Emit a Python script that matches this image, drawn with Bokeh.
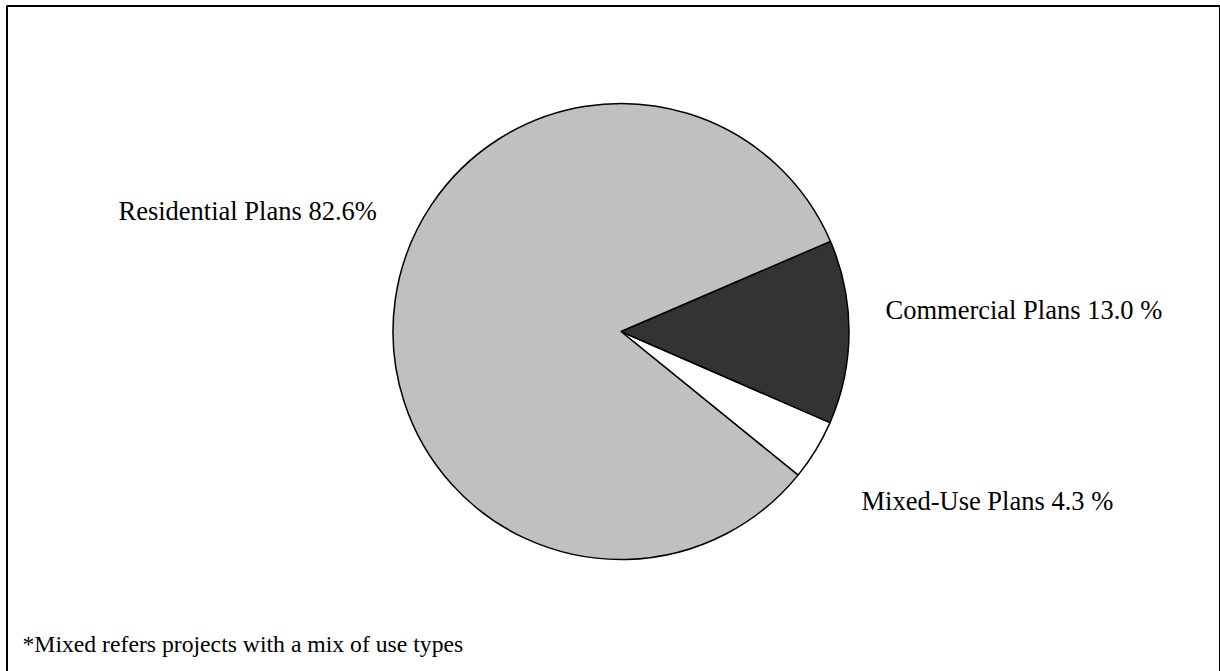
import math
from bokeh.plotting import figure
from bokeh.models import Range1d, ColumnDataSource
from bokeh.core.properties import value
from bokeh.embed import file_html
from bokeh.resources import INLINE

# Share of plans by use type (percent)
categories = ["Mixed-Use Plans", "Commercial Plans", "Residential Plans"]
shares = [4.3, 13.0, 82.6]
labels = ["Mixed-Use Plans 4.3 %", "Commercial Plans 13.0 %", "Residential Plans 82.6%"]
colors = ["#FFFFFF", "#333333", "#C0C0C0"]
footnote = "*Mixed refers projects with a mix of use types"

W, H = 1220, 671
p = figure(width=W, height=H, x_range=Range1d(0, W), y_range=Range1d(0, H),
           min_border=0, toolbar_location=None, output_backend="svg")
p.axis.visible = False
p.grid.visible = False
p.outline_line_color = None
p.background_fill_color = "white"

# Chart frame
p.quad(left=[6.5], right=[1219.5], top=[H - 5.5], bottom=[-10],
       fill_color=None, line_color="black", line_width=2)

# Pie: Residential/Commercial boundary sits at ~23.3 degrees
total = sum(shares)
boundary = math.radians(23.3)
start0 = boundary - 2 * math.pi * (shares[0] + shares[1]) / total
starts, ends = [], []
acc = start0
for s in shares:
    starts.append(acc)
    acc += 2 * math.pi * s / total
    ends.append(acc)

cx, cy, r = 620.5, H - 331, 228
src = ColumnDataSource(dict(cat=categories, start=starts, end=ends, color=colors,
                            x=[cx] * 3, y=[cy] * 3))
p.wedge(x="x", y="y", radius=r, start_angle="start", end_angle="end",
        fill_color="color", line_color="black", line_width=1.5, source=src)

# Slice labels and footnote, all in one serif text glyph
txt = ColumnDataSource(dict(
    x=[861, 885, 118, 22],
    y=[H - 500.7, H - 309, H - 210.5, H - 643],
    text=labels + [footnote],
    size=["26.5px", "26.5px", "26.5px", "23.7px"],
))
p.text(x="x", y="y", text="text", text_font_size="size", source=txt,
       text_font=value("Liberation Serif"), text_color="black",
       text_baseline="alphabetic", text_align="left")

open("out.html", "w").write(file_html(p, INLINE))
